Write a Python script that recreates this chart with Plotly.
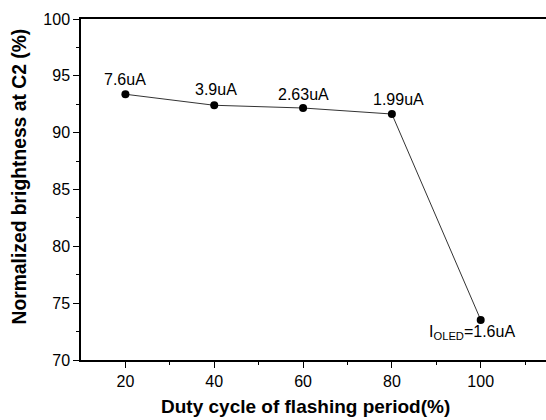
import plotly.graph_objects as go

duty = [20, 40, 60, 80, 100]
brightness = [93.38, 92.41, 92.17, 91.64, 73.53]
current_labels = ["7.6uA", "3.9uA", "2.63uA", "1.99uA", "I<sub>OLED</sub>=1.6uA"]
x_ticks = [20, 40, 60, 80, 100]
y_ticks = [70, 75, 80, 85, 90, 95, 100]

FONT = "Liberation Sans, Arial, sans-serif"

fig = go.Figure()
fig.add_trace(go.Scatter(
    x=duty, y=brightness, mode="lines+markers",
    line=dict(color="#333333", width=1),
    marker=dict(color="black", size=8),
    showlegend=False,
))

label_shift = [(0, 15), (2, 16), (0, 14), (7, 15), (-9, -13)]
for xv, yv, txt, (dx, dy) in zip(duty, brightness, current_labels, label_shift):
    fig.add_annotation(x=xv, y=yv, text=txt, showarrow=False,
                       xshift=dx, yshift=dy,
                       font=dict(family=FONT, size=16, color="black"))

W, H = 546, 420
PLOT_L, PLOT_R, PLOT_T, PLOT_B = 81, 546, 19, 360
pw = PLOT_R - PLOT_L
ph = PLOT_B - PLOT_T

fig.add_annotation(xref="paper", yref="paper", x=(305 - PLOT_L) / pw,
                   y=(PLOT_B - 407) / ph,
                   text="<b>Duty cycle of flashing period(%)</b>", showarrow=False,
                   xanchor="center", yanchor="middle",
                   font=dict(family=FONT, size=19, color="black"))
fig.add_annotation(xref="paper", yref="paper", x=(18.5 - PLOT_L) / pw,
                   y=(PLOT_B - 177) / ph,
                   text="<b>Normalized brightness at C2 (%)</b>", showarrow=False,
                   textangle=-90, xanchor="center", yanchor="middle",
                   font=dict(family=FONT, size=19.3, color="black"))

fig.update_xaxes(
    range=[10, 114.7], tickvals=x_ticks, ticks="outside", ticklen=6,
    tickwidth=1, tickcolor="black", showline=True, linecolor="black",
    linewidth=1.5, mirror=True, showgrid=False, zeroline=False,
    tickfont=dict(family=FONT, size=16, color="black"),
    minor=dict(tickvals=[30, 50, 70, 90, 110], ticks="outside", ticklen=3,
               tickcolor="black", showgrid=False),
)
fig.update_yaxes(
    range=[70, 100], tickvals=y_ticks, ticks="outside", ticklen=6,
    tickwidth=1, tickcolor="black", showline=True, linecolor="black",
    linewidth=1.5, showgrid=False, zeroline=False,
    tickfont=dict(family=FONT, size=16, color="black"),
    minor=dict(tickvals=[72.5, 77.5, 82.5, 87.5, 92.5, 97.5], ticks="outside",
               ticklen=3, tickcolor="black", showgrid=False),
)

fig.update_layout(
    width=W, height=H,
    margin=dict(l=PLOT_L, r=W - PLOT_R, t=PLOT_T, b=H - PLOT_B, autoexpand=False),
    paper_bgcolor="white", plot_bgcolor="white",
)

fig.write_html(
    "out.html",
    config={"displayModeBar": False},
    post_script="document.body.style.margin='0';document.body.style.overflow='hidden';",
)
